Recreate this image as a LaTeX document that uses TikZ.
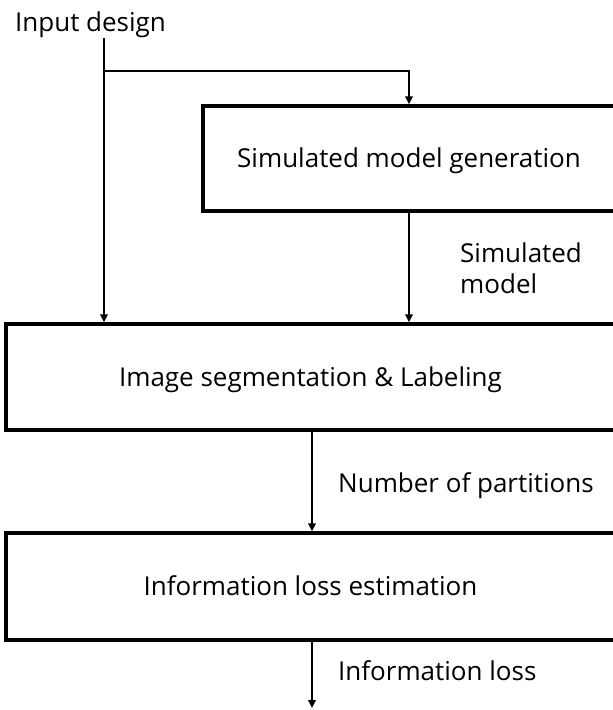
\documentclass[tikz,border=0pt]{standalone}
\usepackage{fontspec}
\setmainfont{Open Sans}
\usetikzlibrary{arrows.meta}

\tikzset{
	txt/.style={font=\fontsize{26pt}{31pt}\selectfont, inner sep=0pt},
	blk/.style={txt, draw, line width=3.5pt, text height=18.5pt, text depth=0pt},
	arr/.style={line width=2pt, -{Triangle[length=8pt,width=7.5pt]}}
}

\begin{document}
\begin{tikzpicture}[x=1pt, y=-1pt]
	\useasboundingbox (0,0) rectangle (613,710);
	\clip (0,0) rectangle (613,710);
	% blocks
	\node[blk, minimum width=412pt, minimum height=105pt] (gen) at (409,158.5) {Simulated model generation};
	\node[blk, minimum width=609pt, minimum height=106pt] (seg) at (310.5,377) {Image segmentation \& Labeling};
	\node[blk, minimum width=609pt, minimum height=107pt] (info) at (310.5,586.5) {Information loss estimation};
	% texts
	\node[txt, anchor=base] (input) at (90.5,31) {Input design};
	\node[txt, anchor=base west, align=left] (lblsim) at (460,293) {Simulated\\model};
	\node[txt, anchor=base west] (lblnum) at (338,492) {Number of partitions};
	\node[txt, anchor=base west] (lblloss) at (338,680) {Information loss};
	\coordinate (src) at (104,38);
	\coordinate (split) at (104,71);
	\coordinate (out) at (312,708);
	% connectors
	\draw[arr] (src) -- (src |- seg.north);
	\draw[arr] (split) -| (gen.north);
	\draw[arr] (gen.south) -- (gen.south |- seg.north);
	\draw[arr] ([xshift=1.5pt]seg.south) -- ([xshift=1.5pt]info.north);
	\draw[arr] ([xshift=1.5pt]info.south) -- (out);
\end{tikzpicture}
\end{document}
